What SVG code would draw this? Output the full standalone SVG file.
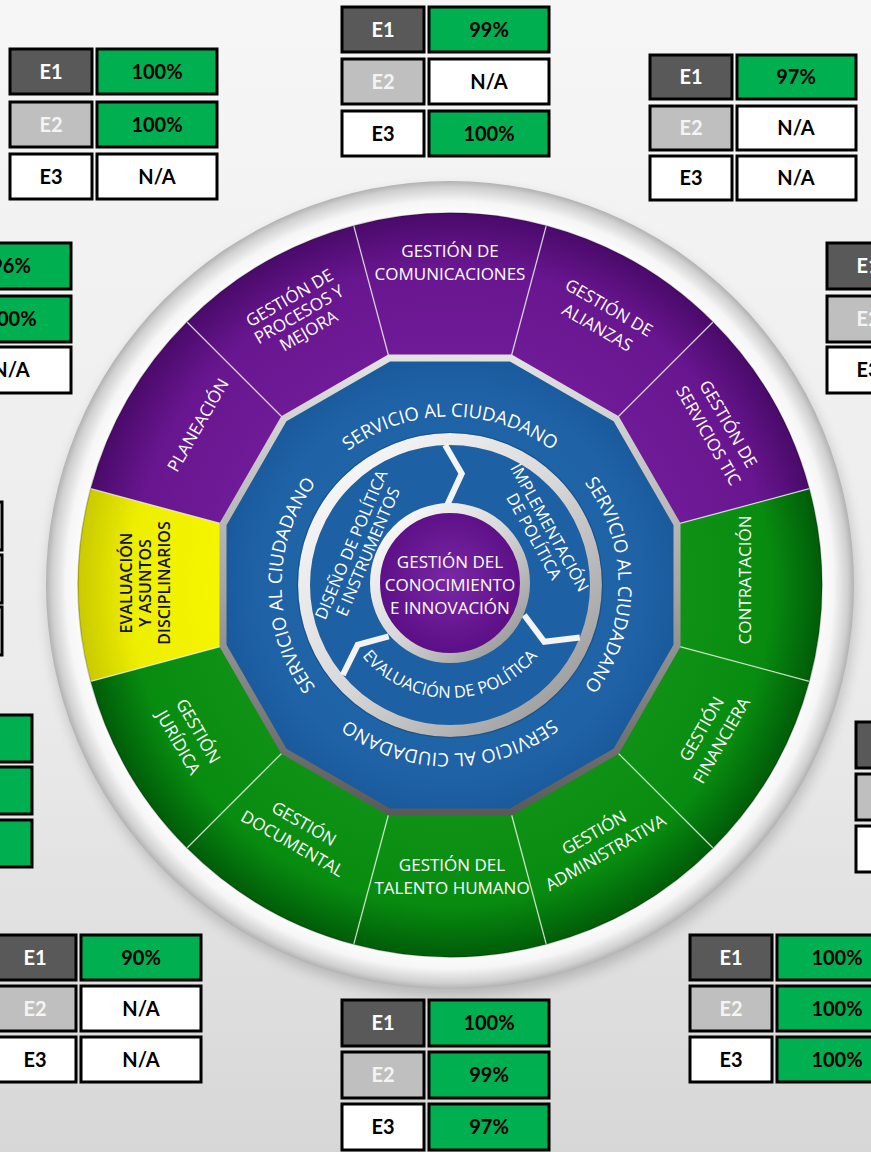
<svg xmlns="http://www.w3.org/2000/svg" width="871" height="1152" viewBox="0 0 871 1152">
<defs>
<linearGradient id="bg" x1="0" y1="0" x2="0" y2="1">
<stop offset="0" stop-color="#f6f6f6"/><stop offset="0.6" stop-color="#ebebeb"/><stop offset="1" stop-color="#d7d7d7"/>
</linearGradient>
<radialGradient id="rim" gradientUnits="userSpaceOnUse" cx="450" cy="585" r="404">
<stop offset="0.9" stop-color="#ffffff"/><stop offset="0.95" stop-color="#f6f6f6"/><stop offset="0.985" stop-color="#d0d0d0"/><stop offset="1" stop-color="#b2b2b2"/>
</radialGradient>
<radialGradient id="gPur" gradientUnits="userSpaceOnUse" cx="450" cy="585" r="372">
<stop offset="0.6" stop-color="#701b99"/><stop offset="0.86" stop-color="#68168f"/><stop offset="1" stop-color="#4a0a6a"/>
</radialGradient>
<radialGradient id="gGrn" gradientUnits="userSpaceOnUse" cx="450" cy="585" r="372">
<stop offset="0.6" stop-color="#0f9216"/><stop offset="0.86" stop-color="#088c10"/><stop offset="1" stop-color="#005c08"/>
</radialGradient>
<radialGradient id="gYel" gradientUnits="userSpaceOnUse" cx="450" cy="585" r="372">
<stop offset="0.6" stop-color="#f6f600"/><stop offset="0.86" stop-color="#eeee00"/><stop offset="1" stop-color="#caca00"/>
</radialGradient>
<radialGradient id="gBlue" gradientUnits="userSpaceOnUse" cx="450" cy="585" r="240">
<stop offset="0" stop-color="#2368ac"/><stop offset="0.8" stop-color="#1f62a6"/><stop offset="1" stop-color="#18589a"/>
</radialGradient>
<radialGradient id="gCen" gradientUnits="userSpaceOnUse" cx="450" cy="580" r="72">
<stop offset="0" stop-color="#7a28a6"/><stop offset="1" stop-color="#5c0f86"/>
</radialGradient>
<linearGradient id="silver" x1="0" y1="0" x2="1" y2="1">
<stop offset="0" stop-color="#ffffff"/><stop offset="0.5" stop-color="#d8d8d8"/><stop offset="1" stop-color="#8e8e8e"/>
</linearGradient>
<linearGradient id="bevel" x1="0" y1="0" x2="0" y2="1">
<stop offset="0" stop-color="#e2e2e2"/><stop offset="0.5" stop-color="#a6a6a6"/><stop offset="1" stop-color="#5a5a5a"/>
</linearGradient>
<filter id="blur" x="-10%" y="-10%" width="120%" height="120%"><feGaussianBlur stdDeviation="7"/></filter>
<path id="svcArc" d="M330.5 704.5 A169 169 0 0 1 569.5 465.5 A169 169 0 0 1 330.5 704.5"/>
<path id="evalArc" d="M343.8 623.6 A113 113 0 0 0 556.2 623.6"/>
<style>
.seg-label{font-family:"Open Sans","Liberation Sans",sans-serif;font-size:17px;fill:#ffffff;text-anchor:middle}
.seg-dark{fill:#111111;font-weight:600;font-size:16px}
.svc{font-family:"Open Sans","Liberation Sans",sans-serif;font-size:18.5px;fill:#ffffff;text-anchor:middle}
.inner{font-family:"Open Sans","Liberation Sans",sans-serif;font-size:16.5px;fill:#ffffff;text-anchor:middle}
.cen{font-family:"Open Sans","Liberation Sans",sans-serif;font-size:17px;fill:#ffffff;text-anchor:middle}
.divider{stroke:#e6f2e6;stroke-opacity:0.8;stroke-width:1.3}
.chev{fill:none;stroke:#f4f4f4;stroke-width:6;stroke-linejoin:miter}
.c{stroke:#000000;stroke-width:3}
.l1{fill:#595959}.l2{fill:#bfbfbf}.l3{fill:#ffffff}
.vg{fill:#00b050}.vw{fill:#ffffff}
.t{font-family:Lato,"Liberation Sans",sans-serif;font-weight:700;font-size:20px;text-anchor:middle}
.tw{fill:#ffffff}.tl{fill:#f4f4f4}.tb{fill:#000000}
</style>
</defs>
<rect x="0" y="0" width="871" height="1152" fill="url(#bg)"/>
<circle cx="452" cy="592" r="404" fill="#000" opacity="0.18" filter="url(#blur)"/>
<circle cx="450" cy="585" r="404" fill="url(#rim)"/>

<g id="segments">
<g id="seg-comunicaciones"><path d="M389.18 358.01 L353.72 225.69 A372 372 0 0 1 546.28 225.69 L510.82 358.01 Z" fill="url(#gPur)"/>
<text class="seg-label" transform="translate(450,263)"><tspan x="0" y="-6">GESTIÓN DE</tspan><tspan x="0" y="17">COMUNICACIONES</tspan></text></g>
<g id="seg-alianzas"><path d="M510.82 358.01 L546.28 225.69 A372 372 0 0 1 713.04 321.96 L616.17 418.83 Z" fill="url(#gPur)"/>
<text class="seg-label" transform="translate(603,318) rotate(30)"><tspan x="0" y="-6">GESTIÓN DE</tspan><tspan x="0" y="17">ALIANZAS</tspan></text></g>
<g id="seg-servicios-tic"><path d="M616.17 418.83 L713.04 321.96 A372 372 0 0 1 809.31 488.72 L676.99 524.18 Z" fill="url(#gPur)"/>
<text class="seg-label" transform="translate(718,430) rotate(60)"><tspan x="0" y="-6">GESTIÓN DE</tspan><tspan x="0" y="17">SERVICIOS TIC</tspan></text></g>
<g id="seg-contratacion"><path d="M676.99 524.18 L809.31 488.72 A372 372 0 0 1 809.31 681.28 L676.99 645.82 Z" fill="url(#gGrn)"/>
<text class="seg-label" transform="translate(745,580) rotate(-90)"><tspan x="0" y="6">CONTRATACIÓN</tspan></text></g>
<g id="seg-financiera"><path d="M676.99 645.82 L809.31 681.28 A372 372 0 0 1 713.04 848.04 L616.17 751.17 Z" fill="url(#gGrn)"/>
<text class="seg-label" transform="translate(712,735) rotate(-60)"><tspan x="0" y="-6">GESTIÓN</tspan><tspan x="0" y="17">FINANCIERA</tspan></text></g>
<g id="seg-administrativa"><path d="M616.17 751.17 L713.04 848.04 A372 372 0 0 1 546.28 944.31 L510.82 811.99 Z" fill="url(#gGrn)"/>
<text class="seg-label" transform="translate(600,843) rotate(-30)"><tspan x="0" y="-6">GESTIÓN</tspan><tspan x="0" y="17">ADMINISTRATIVA</tspan></text></g>
<g id="seg-talento-humano"><path d="M510.82 811.99 L546.28 944.31 A372 372 0 0 1 353.72 944.31 L389.18 811.99 Z" fill="url(#gGrn)"/>
<text class="seg-label" transform="translate(452,877)"><tspan x="0" y="-6">GESTIÓN DEL</tspan><tspan x="0" y="17">TALENTO HUMANO</tspan></text></g>
<g id="seg-documental"><path d="M389.18 811.99 L353.72 944.31 A372 372 0 0 1 186.96 848.04 L283.83 751.17 Z" fill="url(#gGrn)"/>
<text class="seg-label" transform="translate(298,834) rotate(30)"><tspan x="0" y="-6">GESTIÓN</tspan><tspan x="0" y="17">DOCUMENTAL</tspan></text></g>
<g id="seg-juridica"><path d="M283.83 751.17 L186.96 848.04 A372 372 0 0 1 90.69 681.28 L223.01 645.82 Z" fill="url(#gGrn)"/>
<text class="seg-label" transform="translate(188,737) rotate(60)"><tspan x="0" y="-6">GESTIÓN</tspan><tspan x="0" y="17">JURÍDICA</tspan></text></g>
<g id="seg-evaluacion"><path d="M223.01 645.82 L90.69 681.28 A372 372 0 0 1 90.69 488.72 L223.01 524.18 Z" fill="url(#gYel)"/>
<text class="seg-label seg-dark" transform="translate(147,583) rotate(-90)"><tspan x="0" y="-15">EVALUACIÓN</tspan><tspan x="0" y="4">Y ASUNTOS</tspan><tspan x="0" y="23">DISCIPLINARIOS</tspan></text></g>
<g id="seg-planeacion"><path d="M223.01 524.18 L90.69 488.72 A372 372 0 0 1 186.96 321.96 L283.83 418.83 Z" fill="url(#gPur)"/>
<text class="seg-label" transform="translate(198,425) rotate(-60)"><tspan x="0" y="6">PLANEACIÓN</tspan></text></g>
<g id="seg-procesos"><path d="M283.83 418.83 L186.96 321.96 A372 372 0 0 1 353.72 225.69 L389.18 358.01 Z" fill="url(#gPur)"/>
<text class="seg-label" transform="translate(300,316) rotate(-30)"><tspan x="0" y="-15">GESTIÓN DE</tspan><tspan x="0" y="4">PROCESOS Y</tspan><tspan x="0" y="23">MEJORA</tspan></text></g>
</g>

<g id="dividers">
<line class="divider" x1="510.82" y1="358.01" x2="546.28" y2="225.69"/>
<line class="divider" x1="616.17" y1="418.83" x2="713.04" y2="321.96"/>
<line class="divider" x1="676.99" y1="524.18" x2="809.31" y2="488.72"/>
<line class="divider" x1="676.99" y1="645.82" x2="809.31" y2="681.28"/>
<line class="divider" x1="616.17" y1="751.17" x2="713.04" y2="848.04"/>
<line class="divider" x1="510.82" y1="811.99" x2="546.28" y2="944.31"/>
<line class="divider" x1="389.18" y1="811.99" x2="353.72" y2="944.31"/>
<line class="divider" x1="283.83" y1="751.17" x2="186.96" y2="848.04"/>
<line class="divider" x1="223.01" y1="645.82" x2="90.69" y2="681.28"/>
<line class="divider" x1="223.01" y1="524.18" x2="90.69" y2="488.72"/>
<line class="divider" x1="283.83" y1="418.83" x2="186.96" y2="321.96"/>
<line class="divider" x1="389.18" y1="358.01" x2="353.72" y2="225.69"/>
</g>
<circle cx="450" cy="585" r="372" fill="none" stroke="#000" stroke-opacity="0.2" stroke-width="1.5"/>

<g id="servicio-al-ciudadano">
<polygon points="510.82,358.01 616.17,418.83 676.99,524.18 676.99,645.82 616.17,751.17 510.82,811.99 389.18,811.99 283.83,751.17 223.01,645.82 223.01,524.18 283.83,418.83 389.18,358.01" fill="url(#gBlue)" stroke="url(#bevel)" stroke-width="7" stroke-linejoin="miter"/>
<text class="svc"><textPath href="#svcArc" startOffset="12.5%">SERVICIO AL CIUDADANO</textPath></text>
<text class="svc"><textPath href="#svcArc" startOffset="37.5%">SERVICIO AL CIUDADANO</textPath></text>
<text class="svc"><textPath href="#svcArc" startOffset="62.5%">SERVICIO AL CIUDADANO</textPath></text>
<text class="svc"><textPath href="#svcArc" startOffset="87.5%">SERVICIO AL CIUDADANO</textPath></text>
</g>

<g id="ciclo-politica">
<circle cx="450" cy="585" r="146" fill="#1d60a4" stroke="url(#silver)" stroke-width="12"/>
<circle cx="450" cy="585" r="152.5" fill="none" stroke="#0f3f70" stroke-opacity="0.5" stroke-width="1.2"/>
<g id="chevrons">
<polyline class="chev" points="445.1,445.1 461.7,473.6 447.2,505.0"/>
<polyline class="chev" points="579.8,637.4 544.3,641.7 524.2,615.0"/>
<polyline class="chev" points="342.8,675.0 357.7,644.9 388.7,636.4"/>
</g>
<g id="diseno-politica">
<text class="inner" transform="translate(352,545) rotate(-67)"><tspan x="0" y="5">DISEÑO DE POLÍTICA</tspan><tspan x="0" y="23">E INSTRUMENTOS</tspan></text>
</g>
<g id="implementacion-politica">
<text class="inner" transform="translate(549,528) rotate(61)"><tspan x="0" y="5">IMPLEMENTACIÓN</tspan><tspan x="0" y="23">DE POLÍTICA</tspan></text>
</g>
<g id="evaluacion-politica">
<text class="inner"><textPath href="#evalArc" startOffset="50%">EVALUACIÓN DE POLÍTICA</textPath></text>
</g>
</g>

<g id="gestion-conocimiento">
<circle cx="450" cy="583" r="75" fill="url(#gCen)" stroke="url(#silver)" stroke-width="10"/>
<text class="cen"><tspan x="450" y="568">GESTIÓN DEL</tspan><tspan x="450" y="591">CONOCIMIENTO</tspan><tspan x="450" y="614">E INNOVACIÓN</tspan></text>
</g>

<g id="tabla-sup-izq" transform="translate(10,49)">
<rect class="c l1" x="0" y="0" width="82" height="45"/><rect class="c vg" x="87" y="0" width="120" height="45"/>
<rect class="c l2" x="0" y="53" width="82" height="45"/><rect class="c vg" x="87" y="53" width="120" height="45"/>
<rect class="c l3" x="0" y="105" width="82" height="45"/><rect class="c vw" x="87" y="105" width="120" height="45"/>
<text class="t tw" x="41" y="30">E1</text><text class="t tb" x="147" y="30">100%</text>
<text class="t tl" x="41" y="83">E2</text><text class="t tb" x="147" y="83">100%</text>
<text class="t tb" x="41" y="135">E3</text><text class="t tb" x="147" y="135">N/A</text>
</g>
<g id="tabla-sup-centro" transform="translate(342,7)">
<rect class="c l1" x="0" y="0" width="82" height="45"/><rect class="c vg" x="87" y="0" width="120" height="45"/>
<rect class="c l2" x="0" y="52" width="82" height="45"/><rect class="c vw" x="87" y="52" width="120" height="45"/>
<rect class="c l3" x="0" y="104" width="82" height="45"/><rect class="c vg" x="87" y="104" width="120" height="45"/>
<text class="t tw" x="41" y="30">E1</text><text class="t tb" x="147" y="30">99%</text>
<text class="t tl" x="41" y="82">E2</text><text class="t tb" x="147" y="82">N/A</text>
<text class="t tb" x="41" y="134">E3</text><text class="t tb" x="147" y="134">100%</text>
</g>
<g id="tabla-sup-der" transform="translate(650,55)">
<rect class="c l1" x="0" y="0" width="82" height="44"/><rect class="c vg" x="87" y="0" width="119" height="44"/>
<rect class="c l2" x="0" y="51" width="82" height="44"/><rect class="c vw" x="87" y="51" width="119" height="44"/>
<rect class="c l3" x="0" y="101" width="82" height="44"/><rect class="c vw" x="87" y="101" width="119" height="44"/>
<text class="t tw" x="41" y="29">E1</text><text class="t tb" x="146" y="29">97%</text>
<text class="t tl" x="41" y="80">E2</text><text class="t tb" x="146" y="80">N/A</text>
<text class="t tb" x="41" y="130">E3</text><text class="t tb" x="146" y="130">N/A</text>
</g>
<g id="tabla-der-sup" transform="translate(827,243)">
<rect class="c l1" x="0" y="0" width="82" height="46"/>
<rect class="c l2" x="0" y="53" width="82" height="46"/>
<rect class="c l3" x="0" y="104" width="82" height="46"/>
<text class="t tw" x="41" y="30">E1</text>
<text class="t tl" x="41" y="83">E2</text>
<text class="t tb" x="41" y="134">E3</text>
</g>
<g id="tabla-izq-sup" transform="translate(-136,243)">
<rect class="c vg" x="87" y="0" width="120" height="46"/>
<rect class="c vg" x="87" y="53" width="120" height="46"/>
<rect class="c vw" x="87" y="104" width="120" height="46"/>
<text class="t tb" x="147" y="30">96%</text>
<text class="t tb" x="147" y="83">100%</text>
<text class="t tb" x="147" y="134">N/A</text>
</g>
<g id="tabla-izq-medio" transform="translate(-205,502)">
<rect class="c vw" x="87" y="0" width="120" height="48"/>
<rect class="c vw" x="87" y="53" width="120" height="48"/>
<rect class="c vw" x="87" y="105" width="120" height="48"/>
</g>
<g id="tabla-izq-inf" transform="translate(-175,715)">
<rect class="c vg" x="87" y="0" width="120" height="47"/>
<rect class="c vg" x="87" y="52" width="120" height="47"/>
<rect class="c vg" x="87" y="105" width="120" height="47"/>
</g>
<g id="tabla-der-inf" transform="translate(856,722)">
<rect class="c l1" x="0" y="0" width="82" height="46"/>
<rect class="c l2" x="0" y="52" width="82" height="46"/>
<rect class="c l3" x="0" y="104" width="82" height="46"/>
</g>
<g id="tabla-inf-izq" transform="translate(-6,935)">
<rect class="c l1" x="0" y="0" width="82" height="45"/><rect class="c vg" x="87" y="0" width="120" height="45"/>
<rect class="c l2" x="0" y="51" width="82" height="45"/><rect class="c vw" x="87" y="51" width="120" height="45"/>
<rect class="c l3" x="0" y="102" width="82" height="45"/><rect class="c vw" x="87" y="102" width="120" height="45"/>
<text class="t tw" x="41" y="30">E1</text><text class="t tb" x="147" y="30">90%</text>
<text class="t tl" x="41" y="81">E2</text><text class="t tb" x="147" y="81">N/A</text>
<text class="t tb" x="41" y="132">E3</text><text class="t tb" x="147" y="132">N/A</text>
</g>
<g id="tabla-inf-centro" transform="translate(342,1000)">
<rect class="c l1" x="0" y="0" width="82" height="46"/><rect class="c vg" x="87" y="0" width="120" height="46"/>
<rect class="c l2" x="0" y="52" width="82" height="46"/><rect class="c vg" x="87" y="52" width="120" height="46"/>
<rect class="c l3" x="0" y="104" width="82" height="46"/><rect class="c vg" x="87" y="104" width="120" height="46"/>
<text class="t tw" x="41" y="30">E1</text><text class="t tb" x="147" y="30">100%</text>
<text class="t tl" x="41" y="82">E2</text><text class="t tb" x="147" y="82">99%</text>
<text class="t tb" x="41" y="134">E3</text><text class="t tb" x="147" y="134">97%</text>
</g>
<g id="tabla-inf-der" transform="translate(690,935)">
<rect class="c l1" x="0" y="0" width="82" height="45"/><rect class="c vg" x="87" y="0" width="120" height="45"/>
<rect class="c l2" x="0" y="51" width="82" height="45"/><rect class="c vg" x="87" y="51" width="120" height="45"/>
<rect class="c l3" x="0" y="102" width="82" height="45"/><rect class="c vg" x="87" y="102" width="120" height="45"/>
<text class="t tw" x="41" y="30">E1</text><text class="t tb" x="147" y="30">100%</text>
<text class="t tl" x="41" y="81">E2</text><text class="t tb" x="147" y="81">100%</text>
<text class="t tb" x="41" y="132">E3</text><text class="t tb" x="147" y="132">100%</text>
</g>
</svg>
